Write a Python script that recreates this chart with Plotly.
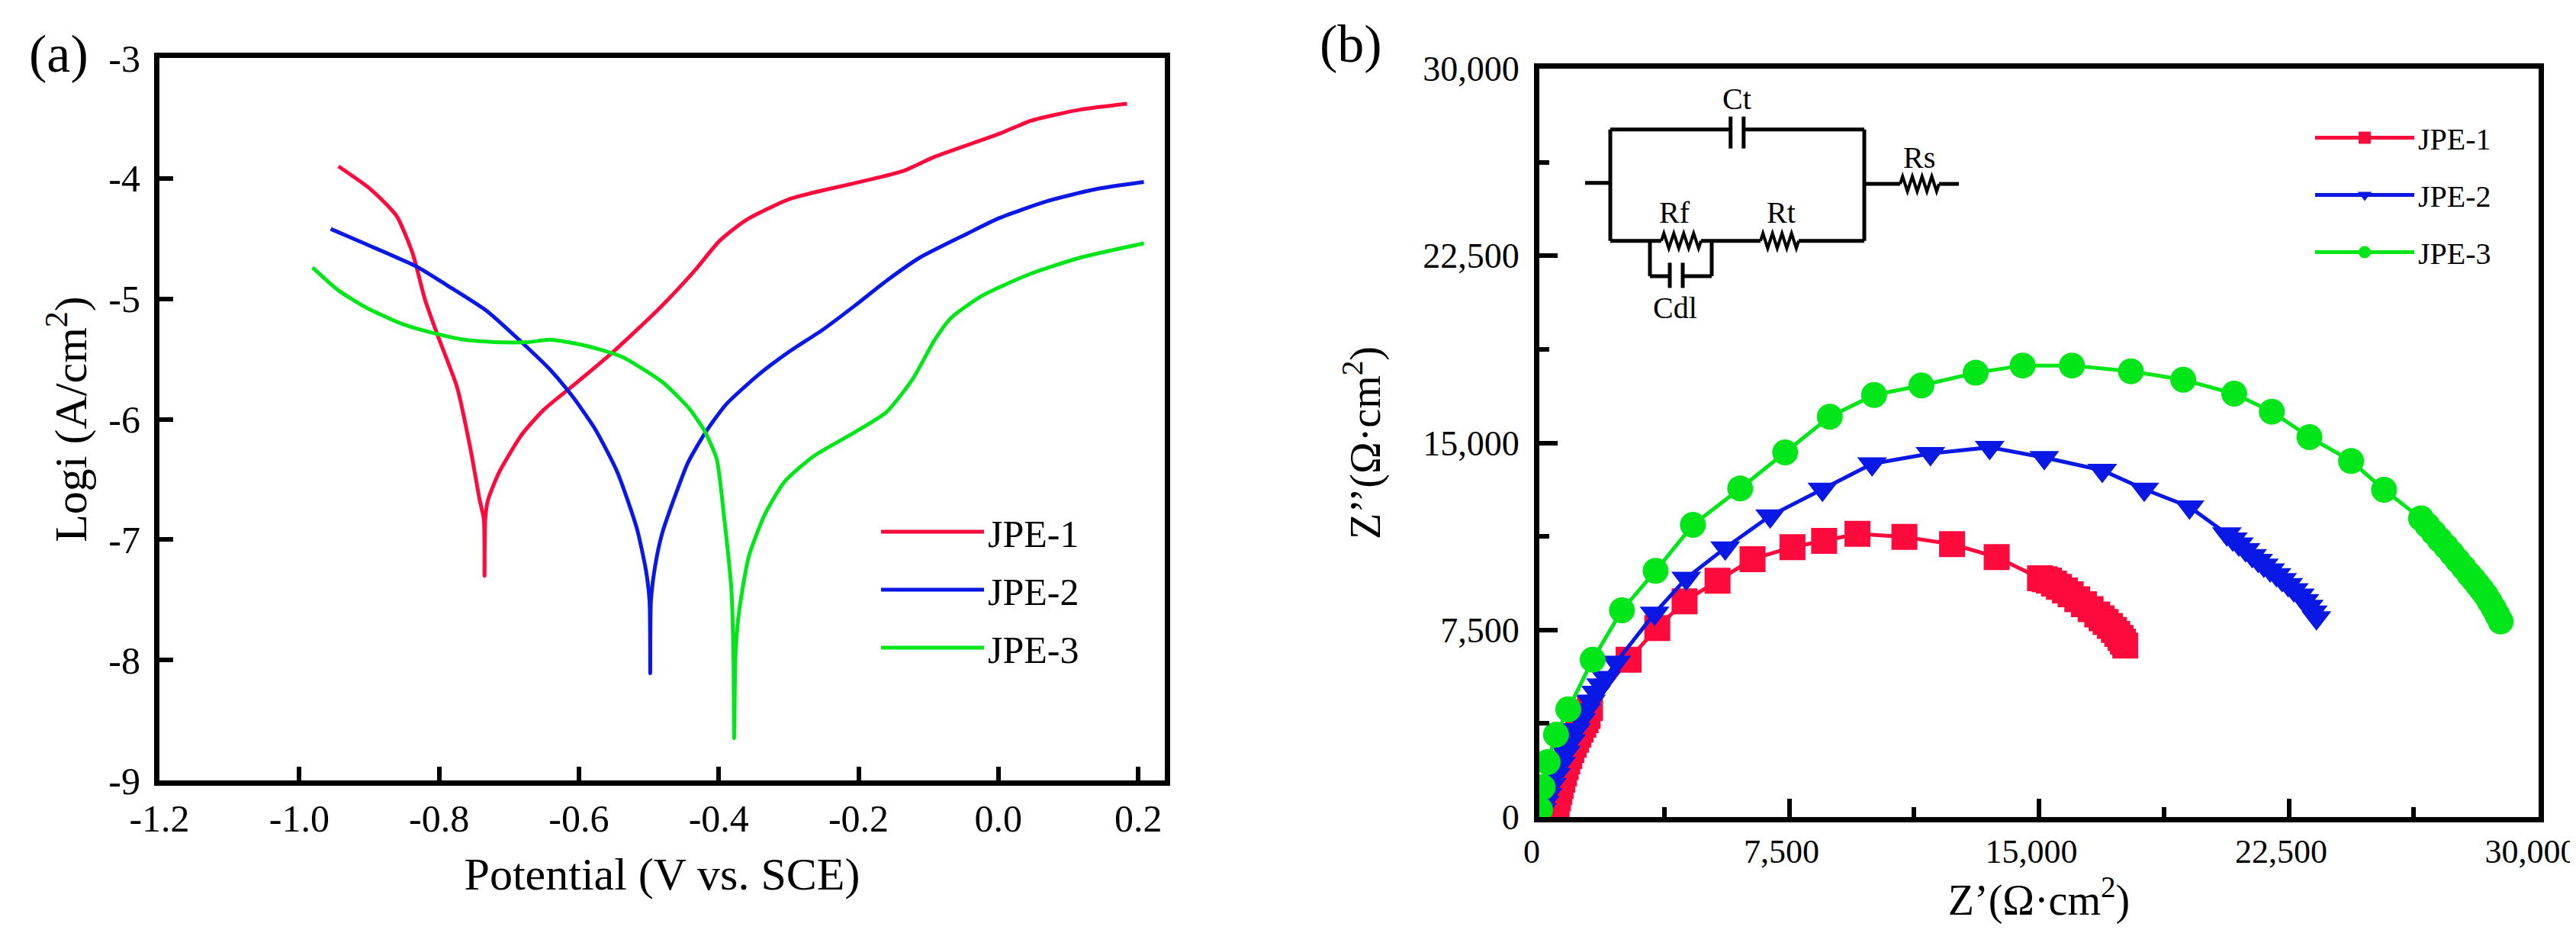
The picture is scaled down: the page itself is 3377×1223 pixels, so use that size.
import plotly.graph_objects as go

# ---- (a) Tafel curves ----
jpe1_v = [-0.944, -0.898, -0.861, -0.838, -0.820, -0.801, -0.774, -0.755, -0.742, -0.736, -0.735, -0.734,
          -0.730, -0.714, -0.682, -0.650, -0.604, -0.549, -0.485, -0.435, -0.399, -0.362, -0.298, -0.206,
          -0.137, -0.091, 0.001, 0.047, 0.116, 0.184]
jpe1_logi = [-3.90, -4.09, -4.31, -4.62, -5.01, -5.32, -5.74, -6.25, -6.67, -6.83, -7.30, -6.83,
             -6.67, -6.44, -6.13, -5.92, -5.70, -5.43, -5.08, -4.77, -4.52, -4.35, -4.17, -4.04,
             -3.94, -3.82, -3.63, -3.52, -3.43, -3.38]

jpe2_v = [-0.955, -0.907, -0.833, -0.788, -0.732, -0.682, -0.641, -0.608, -0.576, -0.545, -0.517, -0.504,
          -0.499, -0.498, -0.497, -0.491, -0.481, -0.462, -0.444, -0.419, -0.390, -0.343, -0.297, -0.252,
          -0.206, -0.160, -0.113, -0.045, 0.001, 0.069, 0.139, 0.208]
jpe2_logi = [-4.42, -4.54, -4.73, -4.89, -5.10, -5.36, -5.59, -5.82, -6.09, -6.44, -6.91, -7.26,
             -7.51, -8.11, -7.51, -7.22, -6.95, -6.63, -6.36, -6.11, -5.88, -5.63, -5.43, -5.26,
             -5.06, -4.85, -4.66, -4.46, -4.33, -4.19, -4.09, -4.03]

jpe3_v = [-0.981, -0.944, -0.902, -0.852, -0.811, -0.764, -0.719, -0.673, -0.641, -0.590, -0.539, -0.481,
          -0.444, -0.421, -0.403, -0.392, -0.382, -0.379, -0.378, -0.376, -0.371, -0.357, -0.334, -0.306,
          -0.265, -0.206, -0.160, -0.123, -0.091, -0.068, -0.022, 0.047, 0.116, 0.208]
jpe3_logi = [-4.74, -4.93, -5.08, -5.21, -5.28, -5.34, -5.36, -5.36, -5.34, -5.39, -5.48, -5.69,
             -5.90, -6.09, -6.33, -6.83, -7.41, -7.95, -8.65, -7.95, -7.60, -7.14, -6.79, -6.52,
             -6.31, -6.11, -5.94, -5.67, -5.34, -5.16, -4.97, -4.79, -4.66, -4.54]

a_xticks = [-1.2, -1.0, -0.8, -0.6, -0.4, -0.2, 0.0, 0.2]
a_xlabels = ["-1.2", "-1.0", "-0.8", "-0.6", "-0.4", "-0.2", "0.0", "0.2"]
a_yticks = [-9, -8, -7, -6, -5, -4, -3]
a_ylabels = ["-9", "-8", "-7", "-6", "-5", "-4", "-3"]

# ---- (b) Nyquist plots ----
jpe1_zre = [450, 490, 520, 560, 600, 640, 690, 740, 790, 840, 900, 960, 1030, 1100, 1170, 1240, 1320, 1390,
            1450, 1520, 2680, 3540, 4360, 5350, 6400, 7600, 8550, 9550, 10960, 12390, 13730, 15030,
            15170, 15300, 15450, 15600, 15780, 15950, 16150, 16350, 16550, 16750, 16880, 17000,
            17130, 17250, 17350, 17450, 17520, 17590]
jpe1_zim = [0, 250, 500, 750, 1000, 1250, 1500, 1750, 2000, 2230, 2450, 2680, 2900, 3100, 3300, 3500, 3700, 3880,
            4050, 4370, 6310, 7580, 8650, 9470, 10340, 10820, 11070, 11350, 11230, 10940, 10420, 9570,
            9530, 9480, 9360, 9230, 9080, 8930, 8730, 8530, 8330, 8120, 7970, 7820,
            7660, 7500, 7340, 7180, 7030, 6870]

jpe2_zre = [80, 160, 250, 370, 500, 650, 800, 950, 1100, 1250, 1400, 1550, 1700, 1850, 2000, 2310, 3460,
            4410, 5580, 6930, 8500, 9990, 11740, 13520, 15160, 16900, 18160, 19520, 20640, 20820, 21000,
            21200, 21400, 21580, 21750, 21940, 22130, 22300, 22480, 22650, 22830, 22970, 23100, 23220, 23330]
jpe2_zim = [300, 600, 900, 1300, 1700, 2150, 2600, 3050, 3500, 3900, 4300, 4650, 5000, 5300, 5600, 6210, 8170,
            9570, 10790, 12070, 13140, 14160, 14570, 14820, 14410, 13900, 13140, 12430, 11350, 11150, 10950,
            10720, 10480, 10290, 10100, 9910, 9720, 9520, 9320, 9110, 8900, 8680, 8450, 8220, 7990]

jpe3_zre = [20, 100, 250, 500, 870, 1600, 2480, 3490, 4610, 6030, 7380, 8720, 10050, 11470, 13100, 14510,
            15990, 17760, 19330, 20860, 21990, 23120, 24370, 25360, 26470, 26660, 26850, 27030, 27220,
            27400, 27570, 27750, 27920, 28050, 28170, 28290, 28410, 28530, 28650, 28760, 28860]
jpe3_zim = [300, 1200, 2200, 3300, 4320, 6310, 8290, 9870, 11710, 13170, 14620, 16050, 16920, 17300, 17810, 18100,
            18100, 17870, 17530, 16970, 16250, 15230, 14270, 13120, 11970, 11690, 11400, 11120, 10840,
            10560, 10280, 10000, 9720, 9520, 9310, 9110, 8900, 8640, 8370, 8100, 7840]

names = ["JPE-1", "JPE-2", "JPE-3"]
colors = ["#FF0A3C", "#0A18E6", "#00E619"]
symbols = ["square", "triangle-down", "circle"]

FONT = "Liberation Serif"

fig = go.Figure()

tafel = [(jpe1_v, jpe1_logi), (jpe2_v, jpe2_logi), (jpe3_v, jpe3_logi)]
for (v, li), name, col in zip(tafel, names, colors):
    fig.add_trace(go.Scatter(x=v, y=li, mode="lines", name=name, legendgroup="a" + name,
                             line=dict(color=col, width=5, shape="spline", smoothing=0.6),
                             xaxis="x", yaxis="y", legend="legend"))

nyq = [(jpe1_zre, jpe1_zim), (jpe2_zre, jpe2_zim), (jpe3_zre, jpe3_zim)]
for (zr, zi), name, col, sym in zip(nyq, names, colors, symbols):
    fig.add_trace(go.Scatter(x=zr, y=zi, mode="lines+markers", name=name, legendgroup="b" + name,
                             line=dict(color=col, width=5),
                             marker=dict(symbol=sym, size=34, color=col),
                             xaxis="x2", yaxis="y2", legend="legend2"))

axis_style = dict(showline=True, linewidth=7, linecolor="black", mirror=True, ticks="inside",
                  tickcolor="black", tickwidth=6, showgrid=False, zeroline=False, automargin=False)

fig.update_layout(
    width=3377, height=1223,
    paper_bgcolor="white", plot_bgcolor="white",
    margin=dict(l=0, r=0, t=0, b=0, autoexpand=False),
    font=dict(family=FONT, color="black"),
    xaxis=dict(axis_style, domain=[201 / 3377, 1519 / 3377], range=[-1.2, 0.238],
               tickvals=a_xticks, ticktext=a_xlabels, ticklen=18,
               tickfont=dict(size=50), ticklabelstandoff=0,
               title=dict(text="Potential (V vs. SCE)", font=dict(size=60), standoff=26)),
    yaxis=dict(axis_style, domain=[1 - 1015 / 1223, 1 - 68 / 1223], range=[-9, -3],
               tickvals=a_yticks, ticktext=a_ylabels, ticklen=18,
               tickfont=dict(size=50), ticklabelstandoff=8,
               title=dict(text="Logi (A/cm<sup>2</sup>)", font=dict(size=60), standoff=12)),
    xaxis2=dict(axis_style, domain=[2010 / 3377, 3320 / 3377], range=[0, 30000], anchor="y2",
                dtick=7500, tickformat=",", ticklen=24, tickfont=dict(size=44), ticklabelstandoff=0,
                ticklabelshift=-10, ticklabeloverflow="allow",
                minor=dict(dtick=3750, ticks="inside", ticklen=13, tickwidth=6, tickcolor="black"),
                title=dict(text="Z’(Ω·cm<sup>2</sup>)", font=dict(size=56), standoff=4)),
    yaxis2=dict(axis_style, domain=[1 - 1063 / 1223, 1 - 82 / 1223], range=[0, 30000], anchor="x2",
                dtick=7500, tickformat=",", ticklen=24, tickfont=dict(size=46), ticklabelstandoff=10,
                minor=dict(dtick=3750, ticks="inside", ticklen=13, tickwidth=6, tickcolor="black"),
                title=dict(text="Z’’(Ω·cm<sup>2</sup>)", font=dict(size=56), standoff=40)),
    legend=dict(x=1142 / 3377, y=1 - 650 / 1223, xanchor="left", yanchor="top",
                font=dict(size=50), itemwidth=135, tracegroupgap=8, bgcolor="rgba(0,0,0,0)"),
    legend2=dict(x=3022 / 3377, y=1 - 140 / 1223, xanchor="left", yanchor="top",
                 font=dict(size=40), itemwidth=130, tracegroupgap=20, bgcolor="rgba(0,0,0,0)"),
)

# panel letters
fig.add_annotation(text="(a)", x=69 / 3377, y=1 - 62 / 1223, xref="paper", yref="paper",
                   xanchor="center", yanchor="middle", showarrow=False, font=dict(size=70))
fig.add_annotation(text="(b)", x=1763 / 3377, y=1 - 49 / 1223, xref="paper", yref="paper",
                   xanchor="center", yanchor="middle", showarrow=False, font=dict(size=70))

# equivalent circuit inset in panel (b)
def resistor(x0, x1, y, amp=300, n=4):
    step = (x1 - x0) / (2 * n)
    p = f"M{x0},{y}"
    for i in range(2 * n):
        yy = y + amp if i % 2 == 0 else y - amp
        p += f" L{x0 + step * (i + 0.5)},{yy}"
    p += f" L{x1},{y}"
    return p

wires = [
    (2130, 27560, 5741, 27560), (6133, 27560, 9755, 27560),
    (5741, 26800, 5741, 28080), (6133, 26800, 6133, 28080),
    (2130, 23100, 2130, 27560), (9755, 23100, 9755, 27560),
    (1374, 25420, 2130, 25420),
    (9755, 25380, 10832, 25380), (12000, 25380, 12595, 25380),
    (2130, 23100, 3664, 23100), (4855, 23100, 6641, 23100), (7786, 23100, 9755, 23100),
    (3320, 23100, 3320, 21680), (3320, 21680, 3916, 21680),
    (3916, 21210, 3916, 22220), (4305, 21210, 4305, 22220),
    (4305, 21680, 5175, 21680), (5175, 21680, 5175, 23100),
]
for x0, y0, x1, y1 in wires:
    fig.add_shape(type="line", x0=x0, y0=y0, x1=x1, y1=y1, xref="x2", yref="y2",
                  line=dict(color="black", width=5))
for x0, x1, y in [(10832, 12000, 25380), (3664, 4855, 23100), (6641, 7786, 23100)]:
    fig.add_shape(type="path", path=resistor(x0, x1, y), xref="x2", yref="y2",
                  line=dict(color="black", width=4))

circuit_labels = [("Ct", 5931, 28780), ("Rs", 11404, 26430), ("Rf", 4076, 24250),
                  ("Rt", 7259, 24250), ("Cdl", 4076, 20400)]
for t, x, y in circuit_labels:
    fig.add_annotation(text=t, x=x, y=y, xref="x2", yref="y2", showarrow=False,
                       font=dict(size=40))

fig.write_html("out.html")
